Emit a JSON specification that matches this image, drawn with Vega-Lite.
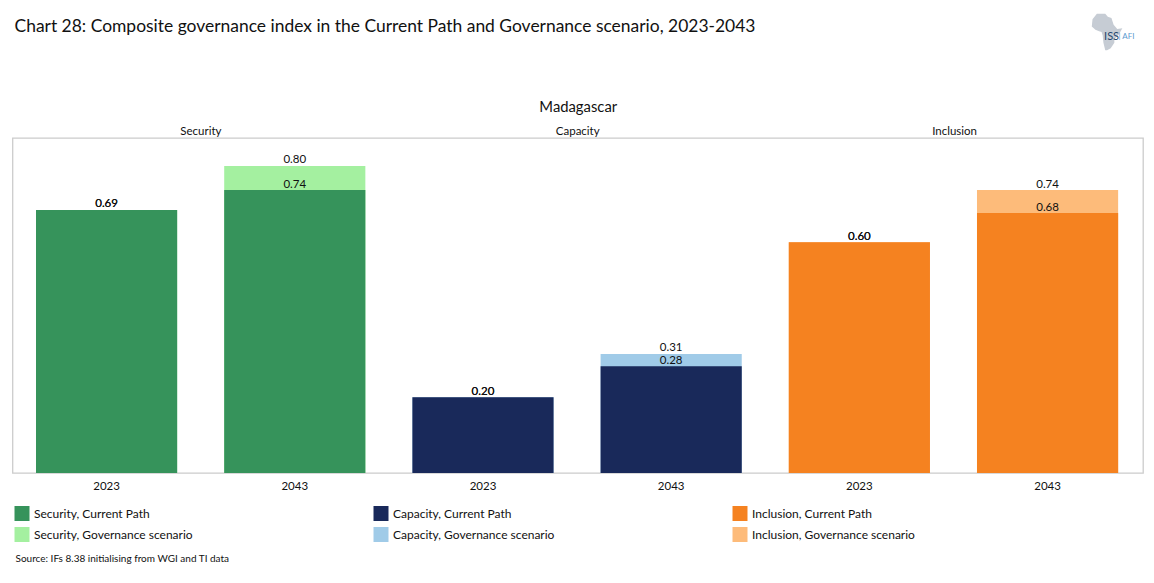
{
"$schema":"https://vega.github.io/schema/vega-lite/v6.json",
"autosize":{"type":"none"},
"width":1130.5,"height":335,
"padding":{"left":12.5,"right":11,"top":138,"bottom":110},
"background":"white",
"config":{"font":"Lato","view":{"stroke":"#cccccc","strokeWidth":1.3}},
"title":{"text":"Chart 28: Composite governance index in the Current Path and Governance scenario, 2023-2043","anchor":"start","frame":"group","dx":2,"offset":-22,"fontSize":17.45,"fontWeight":"normal","font":"Lato","color":"#111111"},
"data":{"values":[
{"group":"Security","year":"2023","key":"Security|2023","series":"Security, Governance scenario","value":0.687},
{"group":"Security","year":"2043","key":"Security|2043","series":"Security, Governance scenario","value":0.802},
{"group":"Capacity","year":"2023","key":"Capacity|2023","series":"Capacity, Governance scenario","value":0.198},
{"group":"Capacity","year":"2043","key":"Capacity|2043","series":"Capacity, Governance scenario","value":0.311},
{"group":"Inclusion","year":"2023","key":"Inclusion|2023","series":"Inclusion, Governance scenario","value":0.603},
{"group":"Inclusion","year":"2043","key":"Inclusion|2043","series":"Inclusion, Governance scenario","value":0.739},
{"group":"Security","year":"2023","key":"Security|2023","series":"Security, Current Path","value":0.687},
{"group":"Security","year":"2043","key":"Security|2043","series":"Security, Current Path","value":0.739},
{"group":"Capacity","year":"2023","key":"Capacity|2023","series":"Capacity, Current Path","value":0.198},
{"group":"Capacity","year":"2043","key":"Capacity|2043","series":"Capacity, Current Path","value":0.279},
{"group":"Inclusion","year":"2023","key":"Inclusion|2023","series":"Inclusion, Current Path","value":0.603},
{"group":"Inclusion","year":"2043","key":"Inclusion|2043","series":"Inclusion, Current Path","value":0.679}
]},
"layer":[
{"layer":[
{"mark":{"type":"bar","cornerRadius":0},
 "encoding":{
  "x":{"field":"key","type":"nominal","sort":null,
   "scale":{"domain":["Security|2023","Security|2043","Capacity|2023","Capacity|2043","Inclusion|2023","Inclusion|2043"],"paddingInner":0.25,"paddingOuter":0.1285,"align":0.486},
   "axis":{"orient":"bottom","labelExpr":"split(datum.label,'|')[1]","labelAngle":0,"ticks":false,"domain":false,"labelFontSize":11.5,"labelColor":"#111111","labelPadding":7,"grid":false,
    "title":"Source: IFs 8.38 initialising from WGI and TI data","titleAnchor":"start","titleAlign":"left","titleBaseline":"middle","titleX":2.5,"titleY":85,"titleFontSize":10,"titleFontWeight":"normal","titleColor":"#111111"}},
  "y":{"field":"value","type":"quantitative","stack":null,"scale":{"domain":[0,0.875],"nice":false,"zero":true},"axis":null},
  "color":{"field":"series","type":"nominal",
   "scale":{"domain":["Security, Current Path","Security, Governance scenario","Capacity, Current Path","Capacity, Governance scenario","Inclusion, Current Path","Inclusion, Governance scenario"],
    "range":["#36935b","#a4f0a0","#19295a","#a0cbe8","#f58220","#fdbb7a"]},
   "legend":{"orient":"none","legendX":2,"legendY":368,"title":null,"columns":3,"gridAlign":"all","columnPadding":176,"rowPadding":6,"symbolType":"square","symbolSize":225,"symbolStrokeWidth":0,"symbolOpacity":1,"labelFontSize":12,"labelColor":"#111111","labelLimit":250,"labelOffset":4.5}}
 }},
{"mark":{"type":"text","baseline":"middle","dy":-5.5,"fontSize":11.5,"color":"#111111"},
 "encoding":{
  "x":{"field":"key","type":"nominal","sort":null},
  "y":{"field":"value","type":"quantitative","stack":null},
  "text":{"field":"value","type":"quantitative","format":".2f"}
 }},
{"data":{"values":[{"logo":"Africa"}]},
 "mark":{"type":"point","filled":true,"opacity":1,"color":"#c6ccd4","size":5300,"xOffset":59.5,"shape":"M-0.28,-0.5 L-0.05,-0.5 L0.02,-0.42 L0.12,-0.38 L0.18,-0.2 L0.28,-0.08 L0.42,-0.1 L0.32,0.08 L0.2,0.2 L0.2,0.3 L0.1,0.45 L0,0.5 L-0.05,0.5 L-0.1,0.3 L-0.12,0.1 L-0.15,0 L-0.22,-0.02 L-0.32,-0.06 L-0.42,-0.15 L-0.4,-0.35 Z"},
 "encoding":{"x":{"datum":"Inclusion|2043"},"y":{"datum":1.152}}},
{"data":{"values":[{"logo":"ISS"}]},
 "mark":{"type":"text","dx":64,"fontSize":11,"color":"#24466e","baseline":"middle","fontWeight":"normal"},
 "encoding":{"x":{"datum":"Inclusion|2043"},"y":{"datum":1.138},"text":{"field":"logo"}}},
{"data":{"values":[{"logo":"| AFI"}]},
 "mark":{"type":"text","dx":79,"fontSize":8,"color":"#5b9bd0","baseline":"middle"},
 "encoding":{"x":{"datum":"Inclusion|2043"},"y":{"datum":1.138},"text":{"field":"logo"}}}
]},
{"data":{"values":[{"group":"Security"},{"group":"Capacity"},{"group":"Inclusion"}]},
 "mark":{"type":"point","opacity":0},
 "encoding":{
  "x":{"field":"group","type":"nominal","sort":null,
   "scale":{"type":"band","domain":["Security","Capacity","Inclusion"],"padding":0},
   "axis":{"orient":"top","ticks":false,"domain":false,"labelAngle":0,"labelFontSize":11.5,"labelColor":"#111111","labelPadding":2,"grid":false,
    "title":"Madagascar","titleFontSize":14.8,"titleFontWeight":"normal","titleColor":"#111111","titlePadding":11}}
 }}
],
"resolve":{"scale":{"x":"independent"}}
}
